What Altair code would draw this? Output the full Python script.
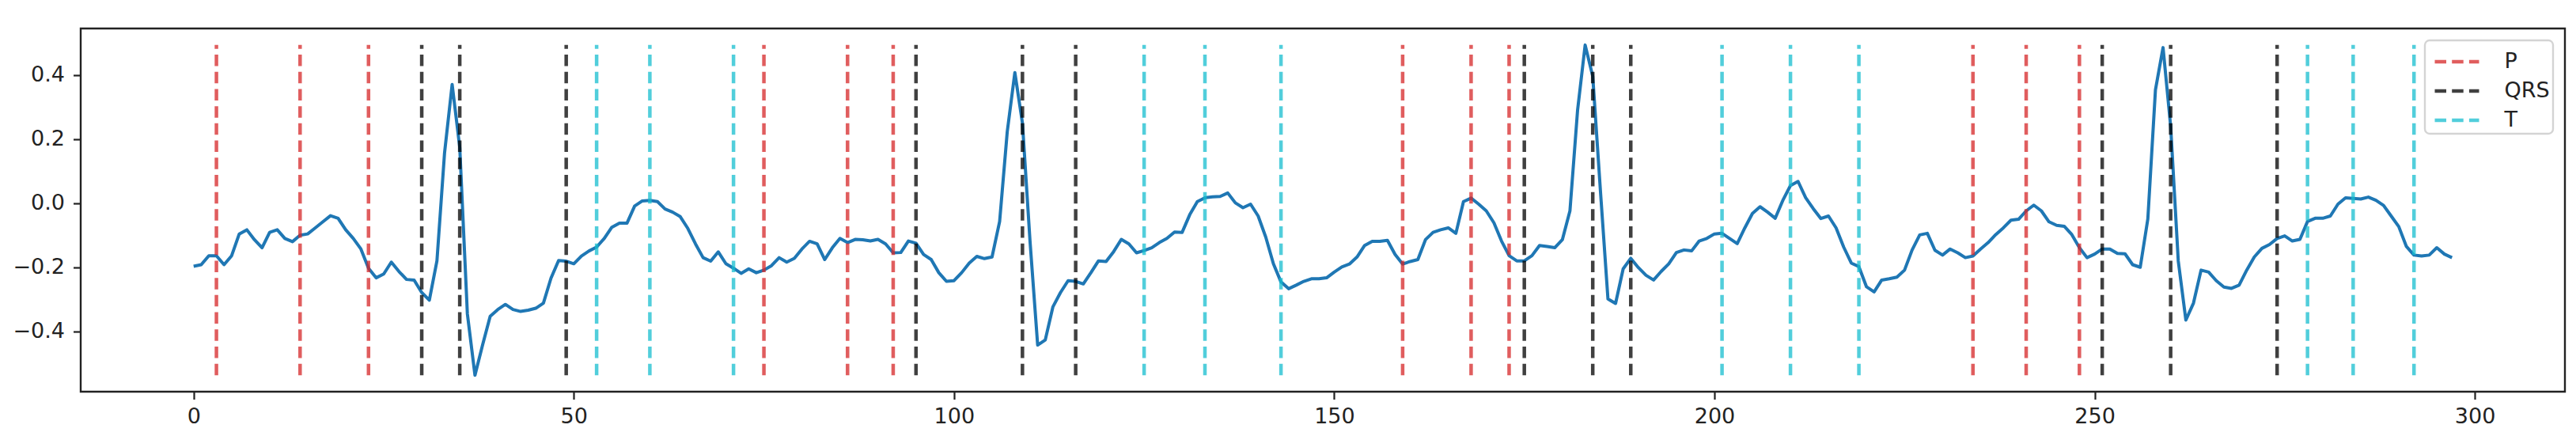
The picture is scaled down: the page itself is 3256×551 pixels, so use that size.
import altair as alt
import pandas as pd

# ECG signal samples (index 0..297)
signal = [
    -0.197, -0.192, -0.164, -0.164, -0.192, -0.164, -0.096, -0.083, -0.114, -0.139,
    -0.091, -0.083, -0.110, -0.120, -0.100, -0.096, -0.077, -0.058, -0.039, -0.047,
    -0.083, -0.110, -0.143, -0.203, -0.233, -0.221, -0.184, -0.213, -0.238, -0.240,
    -0.279, -0.303, -0.180, 0.157, 0.371, 0.174, -0.345, -0.537, -0.443, -0.353,
    -0.332, -0.316, -0.332, -0.338, -0.334, -0.328, -0.312, -0.234, -0.179, -0.181,
    -0.189, -0.165, -0.149, -0.137, -0.110, -0.075, -0.062, -0.062, -0.009, 0.007,
    0.009, 0.005, -0.018, -0.028, -0.042, -0.079, -0.127, -0.170, -0.181, -0.152,
    -0.189, -0.203, -0.219, -0.205, -0.217, -0.209, -0.195, -0.170, -0.184, -0.172,
    -0.143, -0.119, -0.127, -0.176, -0.139, -0.110, -0.123, -0.113, -0.114, -0.118,
    -0.113, -0.127, -0.155, -0.154, -0.118, -0.125, -0.160, -0.176, -0.217, -0.244,
    -0.242, -0.217, -0.187, -0.166, -0.173, -0.168, -0.057, 0.223, 0.408, 0.250,
    -0.120, -0.443, -0.427, -0.324, -0.279, -0.242, -0.244, -0.252, -0.217, -0.180,
    -0.182, -0.151, -0.113, -0.127, -0.155, -0.148, -0.139, -0.123, -0.110, -0.090,
    -0.091, -0.036, 0.005, 0.017, 0.020, 0.021, 0.032, 0.001, -0.014, -0.003,
    -0.040, -0.106, -0.189, -0.246, -0.267, -0.256, -0.244, -0.236, -0.236, -0.233,
    -0.215, -0.199, -0.190, -0.168, -0.132, -0.119, -0.119, -0.116, -0.160, -0.190,
    -0.182, -0.176, -0.114, -0.091, -0.083, -0.077, -0.094, 0.005, 0.016, -0.003,
    -0.024, -0.061, -0.118, -0.164, -0.180, -0.180, -0.164, -0.132, -0.135, -0.139,
    -0.114, -0.024, 0.289, 0.494, 0.396, 0.042, -0.299, -0.313, -0.205, -0.172,
    -0.201, -0.225, -0.240, -0.213, -0.189, -0.154, -0.146, -0.149, -0.118, -0.110,
    -0.096, -0.094, -0.110, -0.126, -0.077, -0.032, -0.011, -0.028, -0.047, 0.009,
    0.055, 0.068, 0.017, -0.017, -0.048, -0.040, -0.077, -0.137, -0.187, -0.198,
    -0.261, -0.277, -0.240, -0.236, -0.231, -0.209, -0.146, -0.099, -0.094, -0.147,
    -0.162, -0.143, -0.155, -0.170, -0.165, -0.143, -0.123, -0.098, -0.077, -0.053,
    -0.050, -0.024, -0.006, -0.024, -0.058, -0.069, -0.072, -0.098, -0.139, -0.170,
    -0.159, -0.143, -0.143, -0.157, -0.158, -0.192, -0.200, -0.049, 0.354, 0.486,
    0.240, -0.180, -0.365, -0.312, -0.209, -0.215, -0.242, -0.262, -0.266, -0.256,
    -0.209, -0.168, -0.141, -0.129, -0.110, -0.102, -0.118, -0.113, -0.057, -0.047,
    -0.047, -0.040, -0.003, 0.017, 0.015, 0.013, 0.019, 0.009, -0.007, -0.040,
    -0.073, -0.135, -0.162, -0.165, -0.162, -0.139, -0.159, -0.170,
]

# Wave boundary annotations (sample index)
p_marks = [3, 14, 23, 75, 86, 92, 159, 168, 173, 234, 241, 248]
qrs_marks = [30, 35, 49, 95, 109, 116, 175, 184, 189, 251, 260, 274]
t_marks = [53, 60, 71, 125, 133, 143, 201, 210, 219, 278, 284, 292]

labels = ["P", "QRS", "T"]
colors = ["#d62728", "#000000", "#17becf"]

x_ticks = [0, 50, 100, 150, 200, 250, 300]
y_ticks = [-0.4, -0.2, 0.0, 0.2, 0.4]

sig_min = min(signal)
sig_max = max(signal)

sig_df = pd.DataFrame({"x": list(range(len(signal))), "y": signal})
rows = []
for lab, marks in zip(labels, [p_marks, qrs_marks, t_marks]):
    for m in marks:
        rows.append({"x": m, "y0": sig_min, "y1": sig_max, "type": lab})
vl_df = pd.DataFrame(rows)

n = len(signal) - 1
x_dom = [-0.05 * n, n * 1.05]
rng = sig_max - sig_min
y_dom = [sig_min - 0.05 * rng, sig_max + 0.05 * rng]

FONT = "DejaVu Sans"

x_enc = alt.X(
    "x:Q",
    scale=alt.Scale(domain=x_dom, nice=False, zero=False),
    axis=alt.Axis(values=x_ticks, format="d", title=None, grid=False, domain=False,
                  tickSize=9.5, tickWidth=2.2, tickColor="#222", labelPadding=9,
                  labelFontSize=27, labelFont=FONT, labelColor="#222",
                  labelFlush=False, labelOverlap=False),
)
y_scale = alt.Scale(domain=y_dom, nice=False, zero=False)
y_axis = alt.Axis(values=y_ticks, format=".1f", title=None, grid=False, domain=False,
                  tickSize=9.5, tickWidth=2.2, tickColor="#222", labelPadding=11,
                  labelFontSize=27, labelFont=FONT, labelColor="#222",
                  labelFlush=False, labelOverlap=False)

line = alt.Chart(sig_df).mark_line(color="#1f77b4", strokeWidth=4, strokeJoin="round").encode(
    x=x_enc,
    y=alt.Y("y:Q", scale=y_scale, axis=y_axis),
)

rules = alt.Chart(vl_df).mark_rule(strokeDash=[14.5, 7.2], strokeWidth=4.5, opacity=0.75).encode(
    x=alt.X("x:Q"),
    y=alt.Y("y0:Q"),
    y2=alt.Y2("y1:Q"),
    color=alt.Color(
        "type:N",
        scale=alt.Scale(domain=labels, range=colors),
        legend=alt.Legend(
            title=None,
            orient="top-right",
            offset=15,
            symbolType="M-1.333,0H1.333",
            symbolSize=1764,
            symbolStrokeWidth=4.5,
            symbolDash=[14.5, 7.2],
            symbolOpacity=0.75,
            symbolFillColor="transparent",
            symbolOffset=13.5,
            labelOffset=36.5,
            labelFont=FONT,
            labelFontSize=27,
            labelColor="#222",
            rowPadding=0,
            padding=3.5,
            strokeColor="#d4d4d4",
            fillColor="#ffffff",
            cornerRadius=6,
        ),
    ),
)

chart = (
    alt.layer(line, rules)
    .properties(
        width=3140,
        height=459,
        autosize=alt.AutoSizeParams(type="none"),
        padding={"left": 94, "top": 28, "right": 6, "bottom": 48},
    )
    .configure_view(stroke="#222", strokeWidth=2.4)
    .configure_legend(strokeWidth=2.4)
)

chart.save("out.html", embed_options={"renderer": "svg", "actions": False})
